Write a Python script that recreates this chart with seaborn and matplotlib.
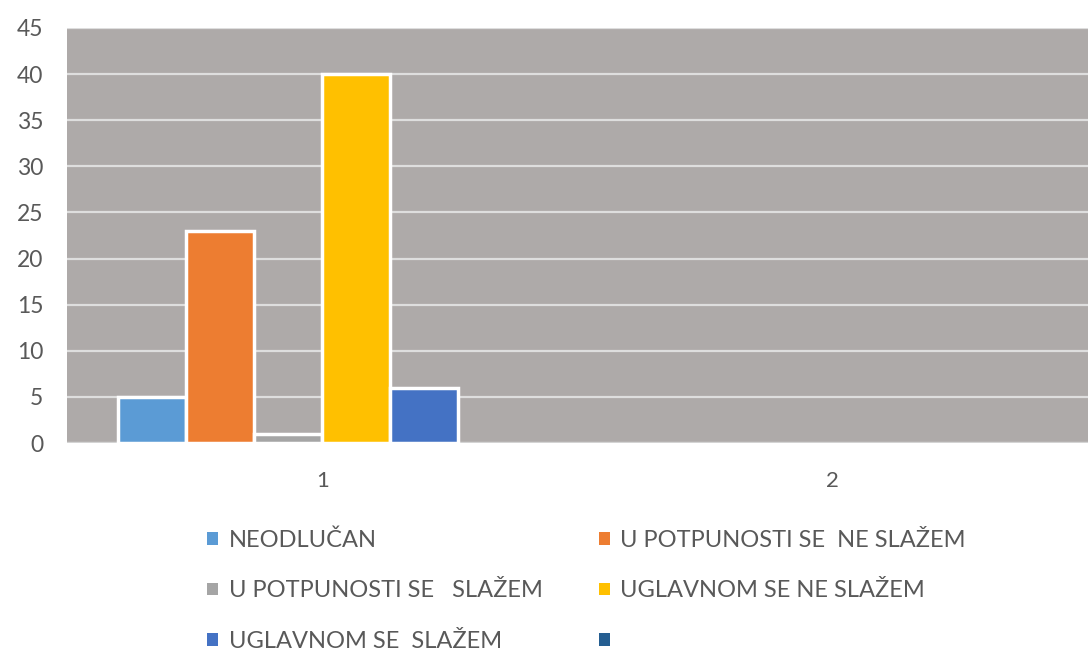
import numpy as np
import pandas as pd
import matplotlib
matplotlib.use("Agg")
import matplotlib.pyplot as plt
from matplotlib.patches import Patch
import seaborn as sns

# ---- data ----
categories = ["1", "2"]
series = ["NEODLUČAN", "U POTPUNOSTI SE  NE SLAŽEM", "U POTPUNOSTI SE   SLAŽEM",
          "UGLAVNOM SE NE SLAŽEM", "UGLAVNOM SE  SLAŽEM", " "]
values_cat1 = [5, 23, 1, 40, 6, np.nan]
values_cat2 = [np.nan, np.nan, np.nan, np.nan, np.nan, np.nan]
colors = ["#5B9BD5", "#ED7D31", "#A5A5A5", "#FFC000", "#4472C4", "#255E91"]
yticks = [0, 5, 10, 15, 20, 25, 30, 35, 40, 45]

df = pd.DataFrame({
    "category": [categories[0]] * len(series) + [categories[1]] * len(series),
    "series": series * 2,
    "value": values_cat1 + values_cat2,
})

sns.set_style("white")
plt.rcParams["font.family"] = ["Lato", "DejaVu Sans"]
text_col = "#595959"

fig = plt.figure(figsize=(10.88, 6.55), dpi=100)
ax = fig.add_axes([67 / 1088, 212 / 655, (1088 - 67) / 1088, 415 / 655])
ax.set_facecolor("#AEAAA9")

sns.barplot(data=df, x="category", y="value", hue="series",
            order=categories, hue_order=series, palette=colors, saturation=1,
            width=0.8, edgecolor="white", linewidth=2.5,
            legend=False, ax=ax, zorder=3)

ax.set_ylim(0, 45)
ax.set_xlim(-0.5, 1.5 - 11 / 516)
ax.set_yticks(yticks)
ax.yaxis.grid(True, color="#DEDEDE", linewidth=1.6, zorder=0)
ax.set_axisbelow(True)
for s in ax.spines.values():
    s.set_visible(False)
ax.axhline(0, color="#D4D4D4", linewidth=1.6, zorder=2)

ax.tick_params(axis="y", length=0, pad=17, labelsize=16.5, labelcolor=text_col)
ax.tick_params(axis="x", which="major", length=0, pad=20, labelsize=16, labelcolor=text_col)
ax.set_xticks([-0.5, 0.5, 1.5], minor=True)
ax.tick_params(axis="x", which="minor", length=7, width=1.2, color="#D4D4D4", direction="out")
ax.set_xlabel("")
ax.set_ylabel("")

handles = [Patch(facecolor=c, edgecolor="none") for c in colors]
order = [0, 2, 4, 1, 3, 5]
leg = fig.legend([handles[i] for i in order], [series[i] for i in order],
                 ncol=2, loc="upper left", bbox_to_anchor=(198 / 1088, 1 - 520 / 655),
                 frameon=False, fontsize=17, handlelength=0.45, handleheight=0.45,
                 handletextpad=0.45, columnspacing=2.4, labelspacing=1.25,
                 labelcolor=text_col, borderaxespad=0)

fig.savefig("out.png", dpi=100)
